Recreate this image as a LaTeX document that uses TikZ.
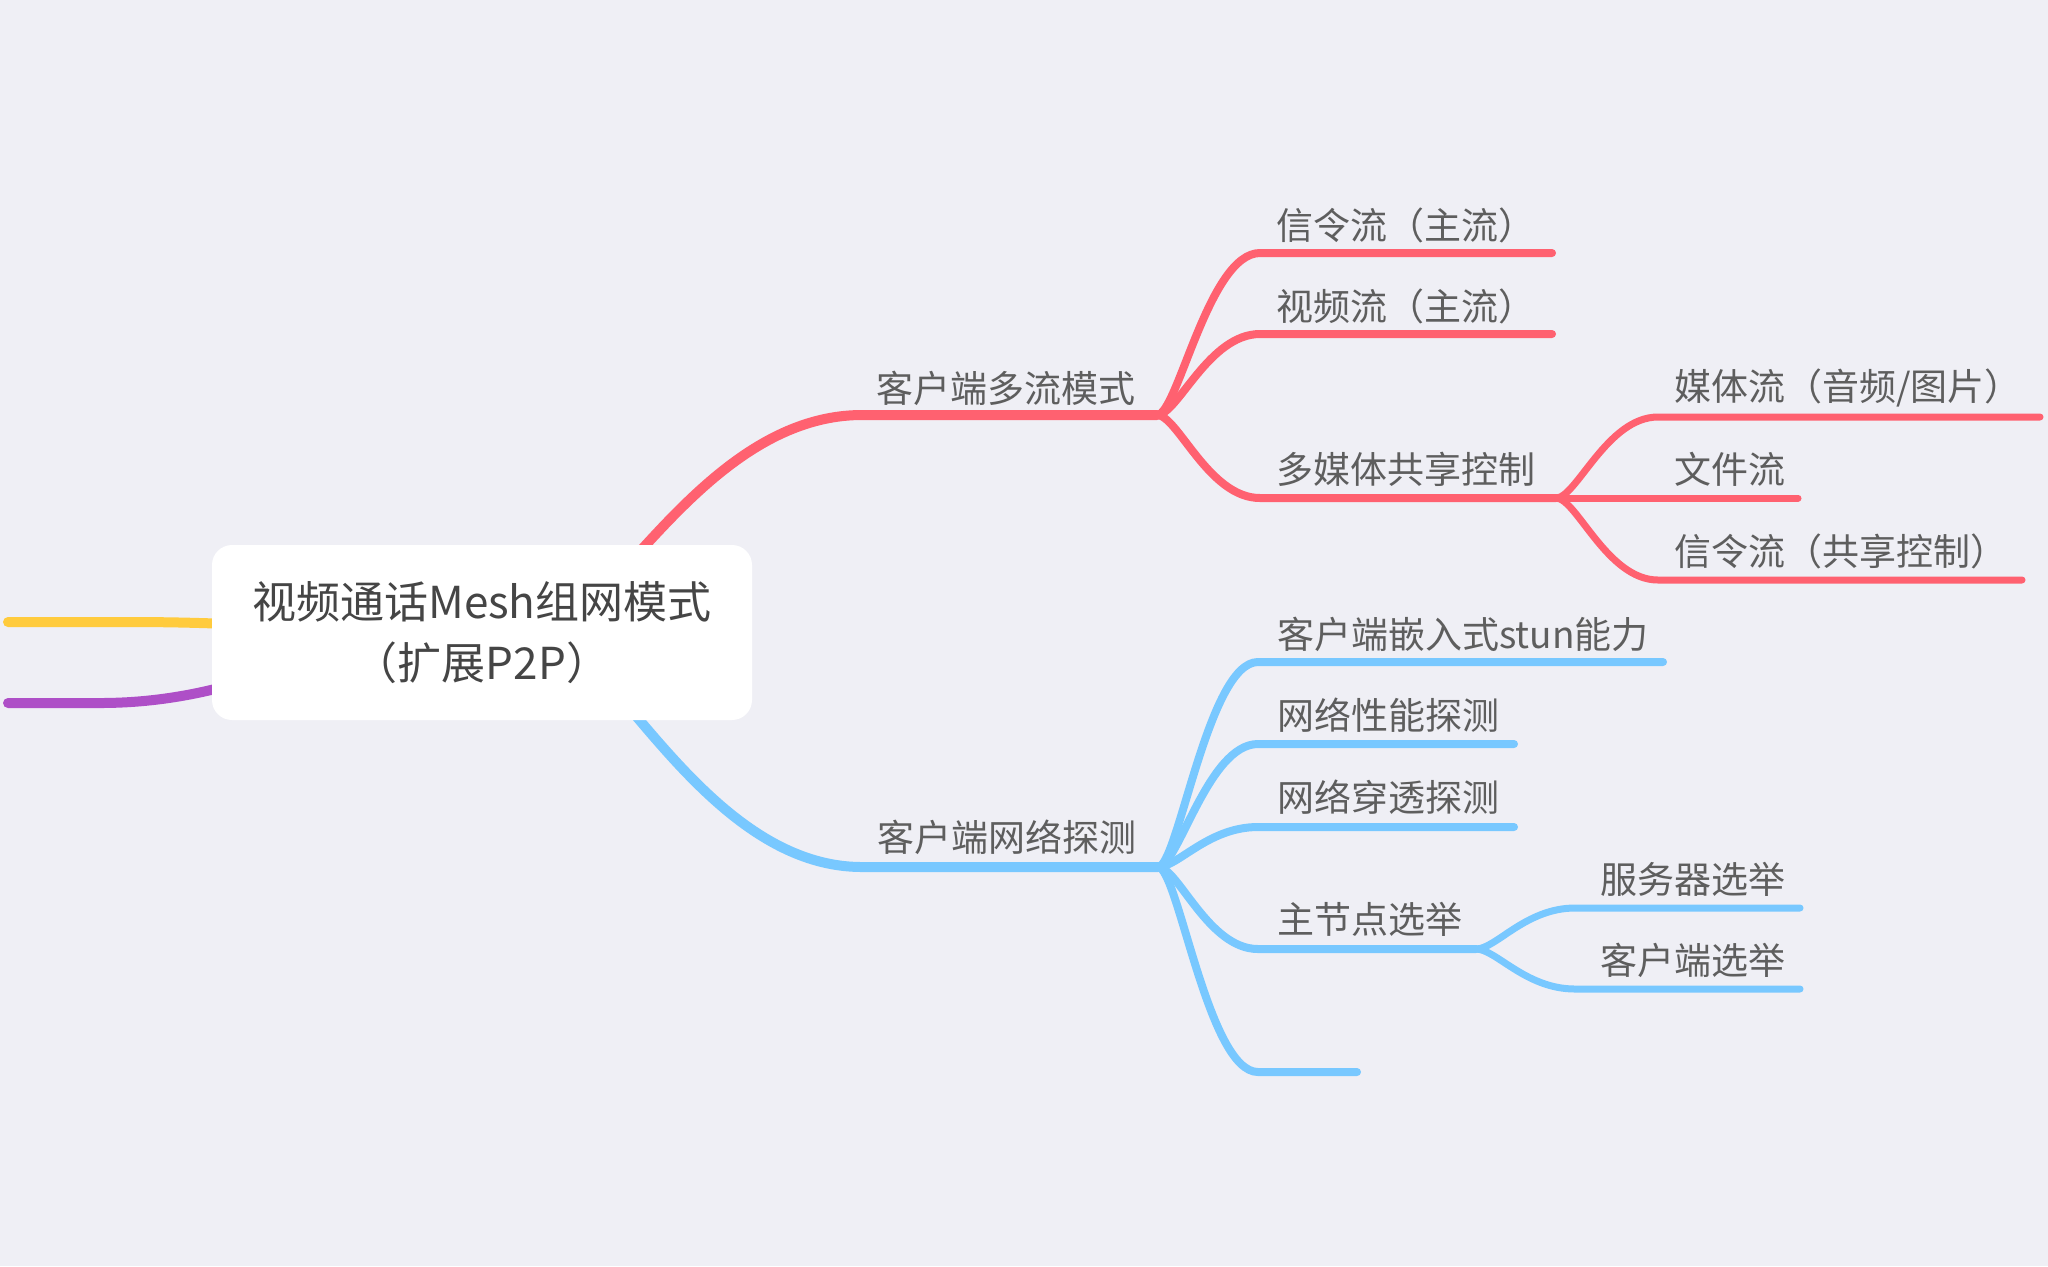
\documentclass[tikz,border=0pt]{standalone}
\usepackage{fontspec}
\setmainfont{Noto Sans CJK SC}
\usetikzlibrary{calc}
\definecolor{bg}{HTML}{EFEFF5}
\definecolor{cred}{HTML}{FF6170}
\definecolor{cblue}{HTML}{78C8FF}
\definecolor{cyel}{HTML}{FFCB3D}
\definecolor{cpur}{HTML}{AE4FC7}
\definecolor{ctext}{HTML}{5E5E5E}
\definecolor{ctitle}{HTML}{454545}
\begin{document}
\begin{tikzpicture}[x=0.5pt,y=-0.5pt,
 curv/.style={to path={let \p1=(\tikztostart),\p2=(\tikztotarget) in .. controls ({\x1+0.2*(\x2-\x1)},\y1) and ({\x1+0.5*(\x2-\x1)},\y2) .. (\tikztotarget)}},
 mainline/.style={line width=5pt,line cap=round},
 subline/.style={line width=4pt,line cap=round},
 leafline/.style={line width=3.5pt,line cap=round},
 lbl/.style={anchor=west,inner sep=0pt,text=ctext,font=\fontsize{18.5}{20}\selectfont},
 titlebox/.style={fill=white,rounded corners=10pt,minimum width=270pt,minimum height=87.5pt,inner sep=0pt,align=center,text=ctitle,font=\fontsize{22}{30.5}\selectfont}]
\fill[bg] (0,0) rectangle (2048,1266);
\useasboundingbox (0,0) rectangle (2048,1266);
% coordinates
\coordinate (c0) at (541,633);
\coordinate (cL) at (400,633);
\coordinate (rms) at (862,415);
\coordinate (R1) at (1157,415);
\coordinate (r1s) at (1260,253); \coordinate (r1e) at (1552,253);
\coordinate (r2s) at (1260,334); \coordinate (r2e) at (1552,334);
\coordinate (r3s) at (1260,498); \coordinate (R2) at (1556,498);
\coordinate (r31s) at (1658,417); \coordinate (r31e) at (2040,417);
\coordinate (r32e) at (1798,498);
\coordinate (r33s) at (1658,580); \coordinate (r33e) at (2022,580);
\coordinate (bms) at (862,867);
\coordinate (B1) at (1158,867);
\coordinate (b1s) at (1258,662); \coordinate (b1e) at (1663,662);
\coordinate (b2s) at (1258,744); \coordinate (b2e) at (1514,744);
\coordinate (b3s) at (1258,827); \coordinate (b3e) at (1514,827);
\coordinate (b4s) at (1258,949); \coordinate (B2) at (1476,949);
\coordinate (b5s) at (1258,1072); \coordinate (b5e) at (1357,1072);
\coordinate (b41s) at (1575,908); \coordinate (b41e) at (1800,908);
\coordinate (b42s) at (1575,989); \coordinate (b42e) at (1800,989);
\coordinate (ys) at (130,622); \coordinate (ye) at (8,622);
\coordinate (ps) at (100,703); \coordinate (pe) at (8,703);
% left branches
\draw[mainline,cyel] (cL) to[curv] (ys) -- (ye);
\draw[mainline,cpur] (cL) to[curv] (ps) -- (pe);
% red
\draw[mainline,cred] (c0) to[curv] (rms) -- (R1);
\draw[subline,cred] (R1) to[curv] (r1s) -- (r1e);
\draw[subline,cred] (R1) to[curv] (r2s) -- (r2e);
\draw[subline,cred] (R1) to[curv] (r3s) -- (R2);
\draw[leafline,cred] (R2) to[curv] (r31s) -- (r31e);
\draw[leafline,cred] (R2) -- (r32e);
\draw[leafline,cred] (R2) to[curv] (r33s) -- (r33e);
% blue
\draw[mainline,cblue] (c0) to[curv] (bms) -- (B1);
\draw[subline,cblue] (B1) to[curv] (b1s) -- (b1e);
\draw[subline,cblue] (B1) to[curv] (b2s) -- (b2e);
\draw[subline,cblue] (B1) to[curv] (b3s) -- (b3e);
\draw[subline,cblue] (B1) to[curv] (b4s) -- (B2);
\draw[subline,cblue] (B1) to[curv] (b5s) -- (b5e);
\draw[leafline,cblue] (B2) to[curv] (b41s) -- (b41e);
\draw[leafline,cblue] (B2) to[curv] (b42s) -- (b42e);
% central box
\node[titlebox] (root) at (482,632.5) {视频通话Mesh组网模式\\（扩展P2P）};
% labels
\node[lbl] (n1) at (876,388) {客户端多流模式};
\node[lbl] (n11) at (1276,225) {信令流（主流）};
\node[lbl] (n12) at (1276,306) {视频流（主流）};
\node[lbl] (n13) at (1276,469) {多媒体共享控制};
\node[lbl] (n131) at (1674,388) {媒体流（音频/图片）};
\node[lbl] (n132) at (1674,469) {文件流};
\node[lbl] (n133) at (1674,551) {信令流（共享控制）};
\node[lbl] (n2) at (877,837) {客户端网络探测};
\node[lbl] (n21) at (1277,634) {客户端嵌入式stun能力};
\node[lbl] (n22) at (1277,715) {网络性能探测};
\node[lbl] (n23) at (1277,797) {网络穿透探测};
\node[lbl] (n24) at (1277,919) {主节点选举};
\node[lbl] (n241) at (1600,879) {服务器选举};
\node[lbl] (n242) at (1600,960) {客户端选举};
\end{tikzpicture}
\end{document}
